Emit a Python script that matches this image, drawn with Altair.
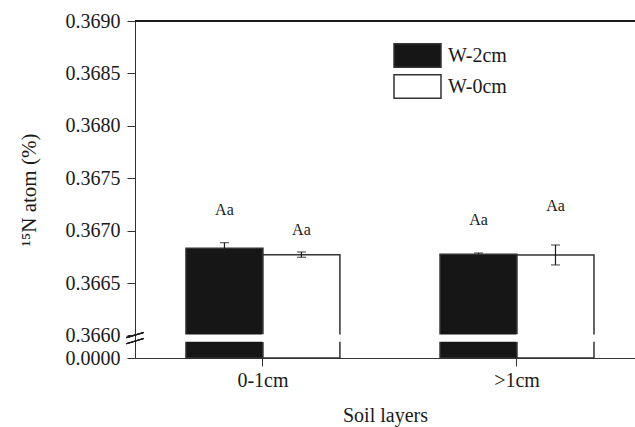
import altair as alt
import pandas as pd

# ---- data ----
layers = ["0-1cm", ">1cm"]
series = ["W-2cm", "W-0cm"]
layer_col = ["0-1cm", "0-1cm", ">1cm", ">1cm"]
series_col = ["W-2cm", "W-0cm", "W-2cm", "W-0cm"]
means = [0.366832, 0.366771, 0.366774, 0.366768]
ses = [0.000053, 0.000025, 0.000013, 0.000095]
letters = ["Aa", "Aa", "Aa", "Aa"]
letter_y = [0.367197, 0.367006, 0.367102, 0.367235]

# broken axis: lower stub stands for 0.0000, upper part is 0.3660-0.3690
AXIS_FLOOR = 0.365785
BREAK_LO, BREAK_HI = 0.36595, 0.3660
Y_TOP = 0.3690
y_ticks = [AXIS_FLOOR, 0.3660, 0.3665, 0.3670, 0.3675, 0.3680, 0.3685, 0.3690]

df = pd.DataFrame({
    "layer": layer_col,
    "series": series_col,
    "mean": means,
    "se": ses,
    "letter": letters,
    "ly": letter_y,
})
df["lo"] = df["mean"] - df["se"]
df["hi"] = df["mean"] + df["se"]
df["floor"] = AXIS_FLOOR
df["blo"] = BREAK_LO
df["bhi"] = BREAK_HI

FONT = "Liberation Serif"
INK = "#1a1a1a"

x_enc = alt.X(
    "layer:N", sort=layers,
    scale=alt.Scale(paddingInner=0.394, paddingOuter=0.181, align=0.554),
    axis=alt.Axis(title="Soil layers", labelAngle=0, tickSize=8, labelPadding=4,
                  titlePadding=15, domainColor="#333", tickColor="#333",
                  labelFont=FONT, labelFontSize=20, labelColor=INK,
                  titleFont=FONT, titleFontSize=20, titleFontWeight="normal", titleColor=INK),
)
xoff = alt.XOffset("series:N", sort=series, scale=alt.Scale(paddingInner=0, paddingOuter=0))
y_scale = alt.Scale(domain=[AXIS_FLOOR, Y_TOP], zero=False, nice=False)

base = alt.Chart(df)

bars = base.mark_bar(stroke="#333", strokeWidth=1.5).encode(
    x=x_enc,
    xOffset=xoff,
    y=alt.Y("mean:Q", scale=y_scale,
            axis=alt.Axis(values=y_ticks, title="¹⁵N atom (%)",
                          labelExpr="datum.value < 0.3659 ? '0.0000' : format(datum.value, '.4f')",
                          tickSize=8, labelPadding=7, titlePadding=26, grid=False,
                          domainColor="#333", tickColor="#333",
                          labelFont=FONT, labelFontSize=20, labelColor=INK,
                          titleFont=FONT, titleFontSize=21, titleFontWeight="normal",
                          titleColor=INK)),
    y2="floor:Q",
    fill=alt.Fill("series:N", sort=series,
                  scale=alt.Scale(domain=series, range=["#161616", "#ffffff"]),
                  legend=alt.Legend(title=None, orient="none", legendX=270, legendY=22,
                                    padding=0, symbolType="M-2,-1H2V1H-2Z",
                                    symbolSize=552, symbolStrokeColor="#333",
                                    symbolStrokeWidth=1.5, labelFont=FONT,
                                    labelFontSize=20, labelColor=INK, labelOffset=18,
                                    rowPadding=0)),
)

gap = base.mark_bar(fill="white", stroke="white", strokeWidth=2).encode(
    x=alt.X("layer:N", sort=layers), xOffset=xoff,
    y=alt.Y("blo:Q"), y2="bhi:Q",
)

err_rule = base.mark_rule(color=INK, strokeWidth=1.2).encode(
    x=alt.X("layer:N", sort=layers), xOffset=xoff,
    y="lo:Q", y2="hi:Q",
)
cap_hi = base.mark_tick(color=INK, size=9, thickness=1.2, orient="horizontal").encode(
    x=alt.X("layer:N", sort=layers), xOffset=xoff, y="hi:Q",
)
cap_lo = base.mark_tick(color=INK, size=9, thickness=1.2, orient="horizontal").encode(
    x=alt.X("layer:N", sort=layers), xOffset=xoff, y="lo:Q",
)

labels = base.mark_text(font=FONT, fontSize=16, color=INK, baseline="middle").encode(
    x=alt.X("layer:N", sort=layers), xOffset=xoff, y="ly:Q", text="letter:N",
)

top_line = alt.Chart(df).mark_rule(color=INK, strokeWidth=1.5).encode(
    y=alt.datum(Y_TOP)
)

brk = alt.Chart(df).mark_point(
    shape="M-1,-0.05L1,-0.65M-1,0.65L1,0.05", filled=False, stroke=INK,
    strokeWidth=1.2, size=300, opacity=1,
).encode(x=alt.value(0), y=alt.datum((BREAK_LO + BREAK_HI) / 2))

chart = alt.layer(bars, gap, err_rule, cap_hi, cap_lo, labels, top_line, brk).properties(
    width=500, height=337,
    autosize=alt.AutoSizeParams(type="none"),
    padding={"left": 135, "top": 21, "right": 0, "bottom": 69},
).configure_view(stroke=None).configure(background="white")

chart.save("out.html", embed_options={"renderer": "svg", "actions": False})
